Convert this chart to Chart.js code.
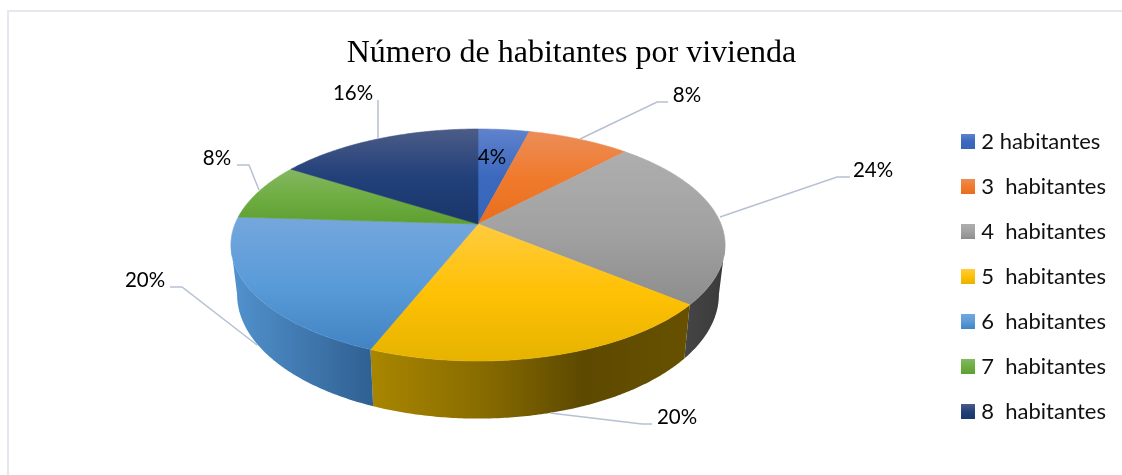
<!DOCTYPE html>
<html><head><meta charset="utf-8">
<style>html,body{margin:0;padding:0;background:#fff}canvas{display:block}</style>
<script src="https://cdn.jsdelivr.net/npm/chart.js@4/dist/chart.umd.min.js"></script>
</head><body><canvas id="c" width="1122" height="475"></canvas>
<script>
const titleText = 'Número de habitantes por vivienda';
const categories = ['2 habitantes','3  habitantes','4  habitantes','5  habitantes','6  habitantes','7  habitantes','8  habitantes'];
const percentages = [4, 8, 24, 20, 20, 8, 16];
const baseColors = ['#4472c4','#ed7d31','#a5a5a5','#ffc000','#5b9bd5','#70ad47','#264478'];

// Styles per slice: vertical gradient of the top face, horizontal gradient of the wall
const faceStops = [
  ['#5f82cc','#3c69be','#3565b8'],
  ['#ec8d58','#f07a2c','#e96e1e'],
  ['#aeaeae','#a2a2a2','#8d8d8d'],
  ['#ffcb3f','#ffc104','#e6b300'],
  ['#75a7dd','#5a9bd9','#4284c3'],
  ['#85b763','#6fae42','#5f9e31'],
  ['#4c5c87','#22407a','#19366a']
];
const wallStops = [
  ['#2a4a80','#2a4a80'],['#9a4f1c','#9a4f1c'],['#454545','#3a3a3a'],
  ['#a98600','#8a6d00','#5d4900','#675100'],['#5292ce','#2f6092'],['#45702c','#45702c'],['#182c50','#182c50']
];
// Leader lines and label anchors, per slice
const labelLayout = [
  {x:492,y:157,line:null},
  {x:687,y:95,line:[[580,139],[657,102],[668,102]]},
  {x:873,y:170,line:[[720,217],[837,177],[850,177]]},
  {x:677,y:417,line:[[550,413],[642,424],[652,424]]},
  {x:145,y:280,line:[[257,345],[182,287],[170,287]]},
  {x:217,y:158,line:[[259,190],[249,165],[237,165]]},
  {x:353,y:93,line:[[378,139],[378,100]]}
];
// Perspective projection of the pie disc
const disc = {cx:478, cy:224, a:243, b:112.2, p:0.181};
const floor = {dy:48, sx:0.975, sy:1.07};

function project(ang, low){
  const u=Math.cos(ang), v=Math.sin(ang), w=1-disc.p*v;
  const x=disc.a*u/w, y=disc.b*v/w;
  return low ? [disc.cx+x*floor.sx, disc.cy+floor.dy+y*floor.sy] : [disc.cx+x, disc.cy+y];
}
function sweep(a0,a1){const n=Math.max(2,Math.ceil((a1-a0)/0.01));const r=[];for(let i=0;i<=n;i++)r.push(a0+(a1-a0)*i/n);return r;}

const pie3d = {
  id:'pie3d',
  beforeDraw(chart){
    const c=chart.ctx;c.save();c.fillStyle='#fff';c.fillRect(0,0,chart.width,chart.height);
    c.fillStyle='#e5e8ef';c.fillRect(7,10,chart.width-7,2);c.fillRect(7,10,2,chart.height-10);c.restore();
  },
  afterLayout(chart){
    chart.titleBlock.left += 26;
    const lg=chart.legend; lg.top+=39; lg.bottom+=39; lg.left-=1; lg.right-=1;
  },
  beforeDatasetDraw(chart,args){
    const c=chart.ctx, arcs=chart.getDatasetMeta(args.index).data;
    const lo=Math.asin(disc.p), hi=Math.PI-lo;
    c.save();
    arcs.forEach((el,i)=>{
      const a0=Math.max(el.startAngle,lo), a1=Math.min(el.endAngle,hi);
      if(a1<=a0) return;
      const angs=sweep(a0,a1);
      const up=angs.map(a=>project(a,false)), dn=angs.map(a=>project(a,true)).reverse();
      const xs=up.concat(dn).map(p=>p[0]);
      const g=c.createLinearGradient(Math.min(...xs),0,Math.max(...xs),0);
      wallStops[i].forEach((s,k,arr)=>g.addColorStop(k/(arr.length-1),s));
      c.fillStyle=g;c.beginPath();
      up.concat(dn).forEach((p,k)=>k?c.lineTo(p[0],p[1]):c.moveTo(p[0],p[1]));
      c.closePath();c.fill();
    });
    arcs.forEach((el,i)=>{
      const pts=[[disc.cx,disc.cy]].concat(sweep(el.startAngle,el.endAngle).map(a=>project(a,false)));
      const ys=pts.map(p=>p[1]);
      const g=c.createLinearGradient(0,Math.min(...ys),0,Math.max(...ys));
      faceStops[i].forEach((s,k,arr)=>g.addColorStop(k/(arr.length-1),s));
      c.fillStyle=g;c.strokeStyle=g;c.lineWidth=0.6;c.beginPath();
      pts.forEach((p,k)=>k?c.lineTo(p[0],p[1]):c.moveTo(p[0],p[1]));
      c.closePath();c.fill();c.stroke();
    });
    c.restore();
    return false;
  },
  afterDatasetsDraw(chart){
    const c=chart.ctx;
    c.save();
    c.strokeStyle='#b5c1d2';c.lineWidth=1.5;c.fillStyle='#000';
    c.font='20.5px Lato';c.textAlign='center';c.textBaseline='middle';
    percentages.forEach((v,i)=>{
      const L=labelLayout[i];
      if(L.line){c.beginPath();L.line.forEach((p,k)=>k?c.lineTo(p[0],p[1]):c.moveTo(p[0],p[1]));c.stroke();}
      c.fillText(v+'%',L.x,L.y);
    });
    c.restore();
  }
};

function swatch(i){
  const cv=document.createElement('canvas');cv.width=14;cv.height=15;
  const x=cv.getContext('2d'),g=x.createLinearGradient(0,0,0,15);
  faceStops[i].forEach((s,k,arr)=>g.addColorStop(k/(arr.length-1),s));
  x.fillStyle=g;x.fillRect(0,0,14,15);return cv;
}

new Chart(document.getElementById('c'),{
  type:'pie',
  data:{labels:categories,datasets:[{data:percentages,backgroundColor:baseColors,borderWidth:0}]},
  plugins:[pie3d],
  options:{
    responsive:false,animation:false,
    layout:{padding:{right:5,left:0,top:0,bottom:0}},
    plugins:{
      tooltip:{enabled:false},
      title:{display:true,text:titleText,color:'#000',
        font:{family:'"Liberation Serif"',size:32,weight:'normal'},
        padding:{top:34,bottom:6}},
      legend:{position:'right',
        labels:{font:{family:'Lato',size:22},color:'#111',usePointStyle:true,pointStyleWidth:4,padding:23,
          generateLabels(){return categories.map((t,i)=>({text:t,fillStyle:baseColors[i],strokeStyle:'transparent',lineWidth:0,pointStyle:swatch(i),hidden:false,index:i,fontColor:'#111'}));}
        }}
    }
  }
});
</script></body></html>
